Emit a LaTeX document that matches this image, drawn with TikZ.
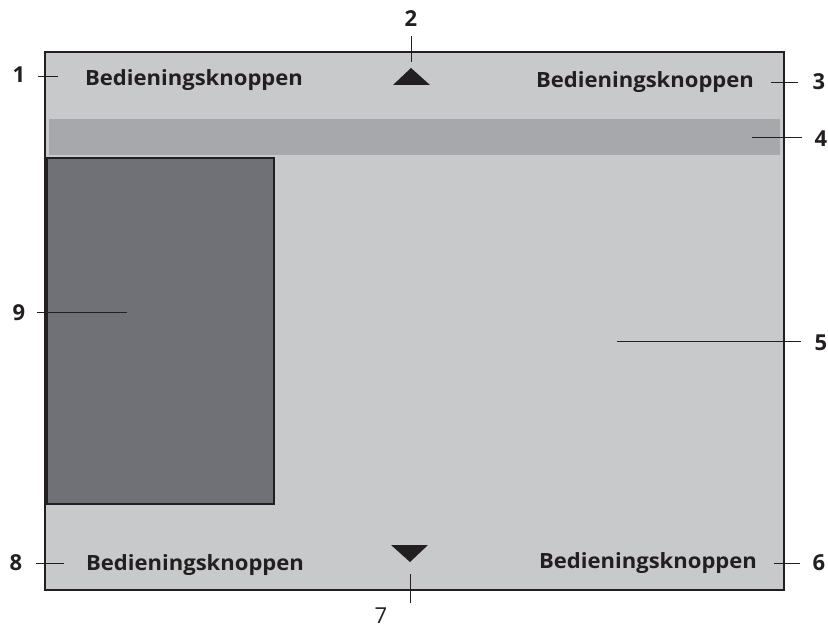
\documentclass[tikz,border=0pt]{standalone}
\usepackage{fontspec}
\setmainfont{Open Sans}
\definecolor{screen}{HTML}{C8C9CB}
\definecolor{bar}{HTML}{A7A8AC}
\definecolor{panel}{HTML}{707176}
\definecolor{ink}{HTML}{231F20}
\newcommand{\btntext}{\scalebox{1.05}[1]{Bedieningsknoppen}}
\tikzset{
  btn/.style={font=\fontsize{21}{24}\selectfont\bfseries, text=ink, inner sep=0pt, anchor=base},
  num/.style={font=\fontsize{22}{26}\selectfont\bfseries, text=ink, inner sep=0pt},
  numreg/.style={font=\fontsize{22}{26}\selectfont, text=ink, inner sep=0pt},
  lead/.style={draw=ink, line width=0.9pt},
  tri/.style={fill=ink}
}
\begin{document}
\begin{tikzpicture}[x=1pt,y=-1pt]
\useasboundingbox (0,0) rectangle (828,628);
% frame
\draw[fill=screen, draw=ink, line width=2pt] (45,52) rectangle (784,590);
\fill[bar] (49,119) rectangle (780,155);
\draw[fill=panel, draw=ink, line width=1.6pt] (47,158) rectangle (274,504);
% triangles
\fill[tri] (393,85) -- (411,68) -- (430,85) -- cycle;
\fill[tri] (391,545) -- (428,545) -- (410,562) -- cycle;
% button texts
\node[btn] (b1) at (194,86) {\btntext};
\node[btn] (b3) at (645,88) {\btntext};
\node[btn] (b8) at (195,570) {\btntext};
\node[btn] (b6) at (648,568) {\btntext};
% numbers
\node[num] (n1) at (19,75) {1};
\node[num] (n2) at (411,18.5) {2};
\node[num] (n3) at (819,82) {3};
\node[num] (n4) at (821,139) {4};
\node[num] (n5) at (821,343) {5};
\node[num] (n6) at (819,563) {6};
\node[numreg] (n7) at (381,615.5) {7};
\node[num] (n8) at (16,563) {8};
\node[num] (n9) at (19,312.5) {9};
% leader endpoints
\coordinate (e1a) at (38,76); \coordinate (e1b) at (58,76);
\coordinate (e2a) at (411,36); \coordinate (e2b) at (411,62);
\coordinate (e3a) at (771,82); \coordinate (e3b) at (798,82);
\coordinate (e4a) at (752,137); \coordinate (e4b) at (802,137);
\coordinate (e5a) at (617,341); \coordinate (e5b) at (801,341);
\coordinate (e6a) at (774,563); \coordinate (e6b) at (800,563);
\coordinate (e7a) at (410,574); \coordinate (e7b) at (410,603);
\coordinate (e8a) at (36,563); \coordinate (e8b) at (64,563);
\coordinate (e9a) at (37,312); \coordinate (e9b) at (127,312);
\foreach \i in {1,...,9} {\draw[lead] (e\i a) -- (e\i b);}
\end{tikzpicture}
\end{document}
